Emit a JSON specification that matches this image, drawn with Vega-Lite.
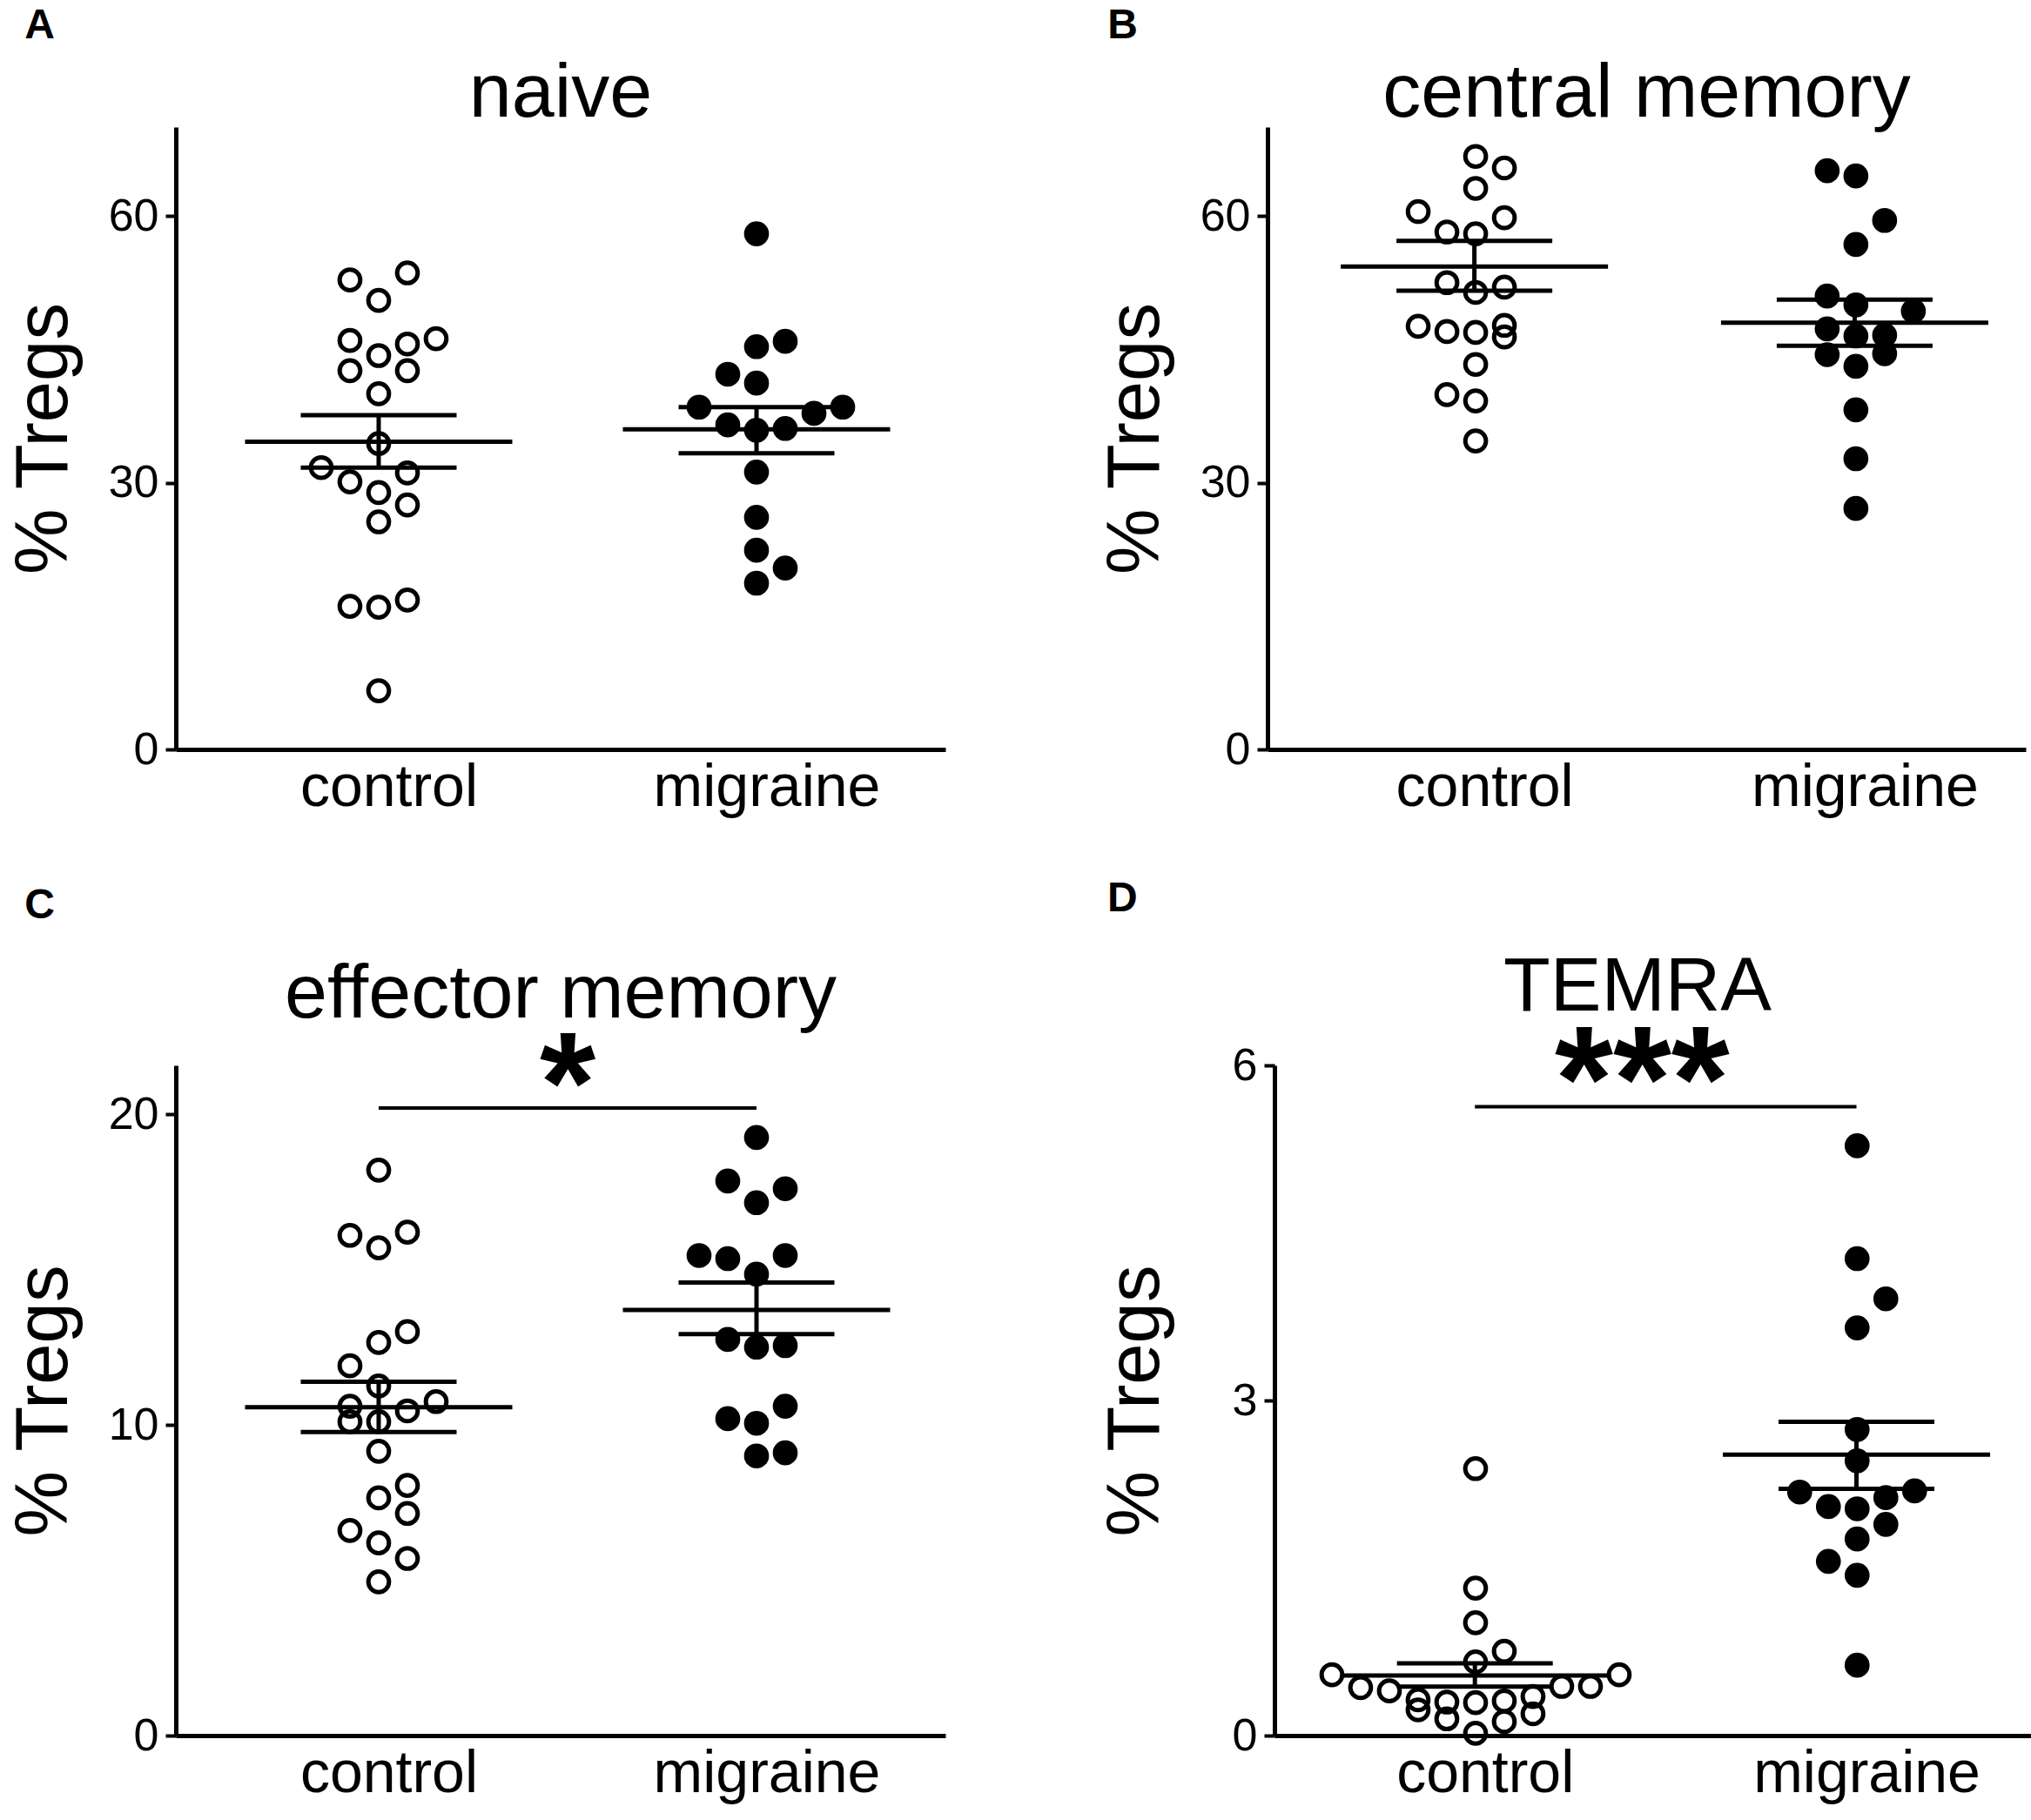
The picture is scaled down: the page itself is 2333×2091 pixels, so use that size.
{
 "$schema": "https://vega.github.io/schema/vega-lite/v6.json",
 "padding": {"left": 8, "top": 6, "right": 0, "bottom": 10},
 "config": {
   "font": "Liberation Sans",
   "view": {"stroke": null},
   "axis": {"grid": false, "domainColor": "black", "domainWidth": 5, "tickColor": "black", "tickWidth": 4, "tickSize": 12, "labelColor": "black", "titleColor": "black", "labelFont": "Liberation Sans", "titleFont": "Liberation Sans"},
   "axisX": {"ticks": false, "labelFontSize": 68, "labelPadding": 10, "labelAngle": 0, "labelLimit": 600, "labelOffset": 12},
   "axisY": {"labelFontSize": 52, "labelPadding": 8, "titleFontSize": 85, "titleFontWeight": "normal", "titlePadding": 30, "format": "d"},
   "title": {"color": "black", "font": "Liberation Sans"}
 },
 "datasets": {
  "pts": [
   {"panel":"naive","group":"control","slot":-1,"value":52.8},
   {"panel":"naive","group":"control","slot":1,"value":53.6},
   {"panel":"naive","group":"control","slot":0,"value":50.5},
   {"panel":"naive","group":"control","slot":-1,"value":46.0},
   {"panel":"naive","group":"control","slot":1,"value":45.6},
   {"panel":"naive","group":"control","slot":2,"value":46.2},
   {"panel":"naive","group":"control","slot":0,"value":44.3},
   {"panel":"naive","group":"control","slot":-1,"value":42.6},
   {"panel":"naive","group":"control","slot":1,"value":42.6},
   {"panel":"naive","group":"control","slot":0,"value":40.0},
   {"panel":"naive","group":"control","slot":0,"value":34.4},
   {"panel":"naive","group":"control","slot":-2,"value":31.7},
   {"panel":"naive","group":"control","slot":-1,"value":30.1},
   {"panel":"naive","group":"control","slot":1,"value":31.1},
   {"panel":"naive","group":"control","slot":0,"value":28.9},
   {"panel":"naive","group":"control","slot":1,"value":27.5},
   {"panel":"naive","group":"control","slot":0,"value":25.6},
   {"panel":"naive","group":"control","slot":-1,"value":16.1},
   {"panel":"naive","group":"control","slot":0,"value":16.0},
   {"panel":"naive","group":"control","slot":1,"value":16.8},
   {"panel":"naive","group":"control","slot":0,"value":6.6},
   {"panel":"naive","group":"migraine","slot":0,"value":58.0},
   {"panel":"naive","group":"migraine","slot":0,"value":45.3},
   {"panel":"naive","group":"migraine","slot":1,"value":45.9},
   {"panel":"naive","group":"migraine","slot":-1,"value":42.2},
   {"panel":"naive","group":"migraine","slot":0,"value":41.2},
   {"panel":"naive","group":"migraine","slot":-2,"value":38.5},
   {"panel":"naive","group":"migraine","slot":2,"value":37.8},
   {"panel":"naive","group":"migraine","slot":3,"value":38.5},
   {"panel":"naive","group":"migraine","slot":-1,"value":36.5},
   {"panel":"naive","group":"migraine","slot":0,"value":35.9},
   {"panel":"naive","group":"migraine","slot":1,"value":36.1},
   {"panel":"naive","group":"migraine","slot":0,"value":31.2},
   {"panel":"naive","group":"migraine","slot":0,"value":26.1},
   {"panel":"naive","group":"migraine","slot":0,"value":22.4},
   {"panel":"naive","group":"migraine","slot":1,"value":20.4},
   {"panel":"naive","group":"migraine","slot":0,"value":18.7},
   {"panel":"central memory","group":"control","slot":0,"value":66.7},
   {"panel":"central memory","group":"control","slot":1,"value":65.4},
   {"panel":"central memory","group":"control","slot":0,"value":63.1},
   {"panel":"central memory","group":"control","slot":-2,"value":60.5},
   {"panel":"central memory","group":"control","slot":1,"value":59.8},
   {"panel":"central memory","group":"control","slot":-1,"value":58.2},
   {"panel":"central memory","group":"control","slot":0,"value":58.0},
   {"panel":"central memory","group":"control","slot":-1,"value":52.5},
   {"panel":"central memory","group":"control","slot":0,"value":51.4},
   {"panel":"central memory","group":"control","slot":1,"value":52.0},
   {"panel":"central memory","group":"control","slot":-2,"value":47.6},
   {"panel":"central memory","group":"control","slot":-1,"value":47.0},
   {"panel":"central memory","group":"control","slot":0,"value":46.9},
   {"panel":"central memory","group":"control","slot":1,"value":47.7},
   {"panel":"central memory","group":"control","slot":1,"value":46.4},
   {"panel":"central memory","group":"control","slot":0,"value":43.3},
   {"panel":"central memory","group":"control","slot":-1,"value":39.9},
   {"panel":"central memory","group":"control","slot":0,"value":39.2},
   {"panel":"central memory","group":"control","slot":0,"value":34.7},
   {"panel":"central memory","group":"migraine","slot":-1,"value":65.1},
   {"panel":"central memory","group":"migraine","slot":0,"value":64.5},
   {"panel":"central memory","group":"migraine","slot":1,"value":59.5},
   {"panel":"central memory","group":"migraine","slot":0,"value":56.8},
   {"panel":"central memory","group":"migraine","slot":-1,"value":51.0},
   {"panel":"central memory","group":"migraine","slot":0,"value":50.0},
   {"panel":"central memory","group":"migraine","slot":2,"value":49.3},
   {"panel":"central memory","group":"migraine","slot":-1,"value":47.3},
   {"panel":"central memory","group":"migraine","slot":0,"value":46.5},
   {"panel":"central memory","group":"migraine","slot":1,"value":46.6},
   {"panel":"central memory","group":"migraine","slot":-1,"value":44.4},
   {"panel":"central memory","group":"migraine","slot":1,"value":44.5},
   {"panel":"central memory","group":"migraine","slot":0,"value":43.1},
   {"panel":"central memory","group":"migraine","slot":0,"value":38.2},
   {"panel":"central memory","group":"migraine","slot":0,"value":32.7},
   {"panel":"central memory","group":"migraine","slot":0,"value":27.1},
   {"panel":"effector memory","group":"control","slot":0,"value":18.2},
   {"panel":"effector memory","group":"control","slot":-1,"value":16.1},
   {"panel":"effector memory","group":"control","slot":1,"value":16.2},
   {"panel":"effector memory","group":"control","slot":0,"value":15.7},
   {"panel":"effector memory","group":"control","slot":1,"value":13.0},
   {"panel":"effector memory","group":"control","slot":0,"value":12.65},
   {"panel":"effector memory","group":"control","slot":-1,"value":11.9},
   {"panel":"effector memory","group":"control","slot":0,"value":11.25},
   {"panel":"effector memory","group":"control","slot":-1,"value":10.6},
   {"panel":"effector memory","group":"control","slot":-1,"value":10.1},
   {"panel":"effector memory","group":"control","slot":0,"value":10.1},
   {"panel":"effector memory","group":"control","slot":1,"value":10.45},
   {"panel":"effector memory","group":"control","slot":2,"value":10.75},
   {"panel":"effector memory","group":"control","slot":0,"value":9.15},
   {"panel":"effector memory","group":"control","slot":1,"value":8.05},
   {"panel":"effector memory","group":"control","slot":0,"value":7.65},
   {"panel":"effector memory","group":"control","slot":1,"value":7.15},
   {"panel":"effector memory","group":"control","slot":-1,"value":6.6},
   {"panel":"effector memory","group":"control","slot":0,"value":6.2},
   {"panel":"effector memory","group":"control","slot":1,"value":5.7},
   {"panel":"effector memory","group":"control","slot":0,"value":4.95},
   {"panel":"effector memory","group":"migraine","slot":0,"value":19.25},
   {"panel":"effector memory","group":"migraine","slot":-1,"value":17.85},
   {"panel":"effector memory","group":"migraine","slot":1,"value":17.6},
   {"panel":"effector memory","group":"migraine","slot":0,"value":17.15},
   {"panel":"effector memory","group":"migraine","slot":-2,"value":15.45},
   {"panel":"effector memory","group":"migraine","slot":-1,"value":15.35},
   {"panel":"effector memory","group":"migraine","slot":1,"value":15.45},
   {"panel":"effector memory","group":"migraine","slot":0,"value":14.85},
   {"panel":"effector memory","group":"migraine","slot":-1,"value":12.75},
   {"panel":"effector memory","group":"migraine","slot":0,"value":12.5},
   {"panel":"effector memory","group":"migraine","slot":1,"value":12.55},
   {"panel":"effector memory","group":"migraine","slot":1,"value":10.6},
   {"panel":"effector memory","group":"migraine","slot":-1,"value":10.2},
   {"panel":"effector memory","group":"migraine","slot":0,"value":10.05},
   {"panel":"effector memory","group":"migraine","slot":0,"value":9.0},
   {"panel":"effector memory","group":"migraine","slot":1,"value":9.1},
   {"panel":"TEMRA","group":"control","slot":0,"value":2.39},
   {"panel":"TEMRA","group":"control","slot":0,"value":1.32},
   {"panel":"TEMRA","group":"control","slot":0,"value":1.01},
   {"panel":"TEMRA","group":"control","slot":1,"value":0.755},
   {"panel":"TEMRA","group":"control","slot":0,"value":0.66},
   {"panel":"TEMRA","group":"control","slot":-5,"value":0.545},
   {"panel":"TEMRA","group":"control","slot":5,"value":0.545},
   {"panel":"TEMRA","group":"control","slot":-4,"value":0.43},
   {"panel":"TEMRA","group":"control","slot":4,"value":0.44},
   {"panel":"TEMRA","group":"control","slot":-3,"value":0.4},
   {"panel":"TEMRA","group":"control","slot":3,"value":0.44},
   {"panel":"TEMRA","group":"control","slot":-2,"value":0.32},
   {"panel":"TEMRA","group":"control","slot":-2,"value":0.23},
   {"panel":"TEMRA","group":"control","slot":-1,"value":0.3},
   {"panel":"TEMRA","group":"control","slot":0,"value":0.295},
   {"panel":"TEMRA","group":"control","slot":1,"value":0.31},
   {"panel":"TEMRA","group":"control","slot":2,"value":0.35},
   {"panel":"TEMRA","group":"control","slot":2,"value":0.195},
   {"panel":"TEMRA","group":"control","slot":-1,"value":0.15},
   {"panel":"TEMRA","group":"control","slot":1,"value":0.125},
   {"panel":"TEMRA","group":"control","slot":0,"value":0.02},
   {"panel":"TEMRA","group":"migraine","slot":0,"value":5.28},
   {"panel":"TEMRA","group":"migraine","slot":0,"value":4.27},
   {"panel":"TEMRA","group":"migraine","slot":1,"value":3.91},
   {"panel":"TEMRA","group":"migraine","slot":0,"value":3.65},
   {"panel":"TEMRA","group":"migraine","slot":0,"value":2.74},
   {"panel":"TEMRA","group":"migraine","slot":0,"value":2.46},
   {"panel":"TEMRA","group":"migraine","slot":-2,"value":2.18},
   {"panel":"TEMRA","group":"migraine","slot":2,"value":2.19},
   {"panel":"TEMRA","group":"migraine","slot":-1,"value":2.05},
   {"panel":"TEMRA","group":"migraine","slot":0,"value":2.03},
   {"panel":"TEMRA","group":"migraine","slot":1,"value":2.13},
   {"panel":"TEMRA","group":"migraine","slot":1,"value":1.89},
   {"panel":"TEMRA","group":"migraine","slot":0,"value":1.76},
   {"panel":"TEMRA","group":"migraine","slot":-1,"value":1.56},
   {"panel":"TEMRA","group":"migraine","slot":0,"value":1.435},
   {"panel":"TEMRA","group":"migraine","slot":0,"value":0.63}
  ],
  "summ": [
   {"panel":"naive","group":"control","mean":34.6,"lo":31.7,"hi":37.6},
   {"panel":"naive","group":"migraine","mean":36.0,"lo":33.3,"hi":38.5},
   {"panel":"central memory","group":"control","mean":54.3,"lo":51.6,"hi":57.2},
   {"panel":"central memory","group":"migraine","mean":48.0,"lo":45.4,"hi":50.6},
   {"panel":"effector memory","group":"control","mean":10.57,"lo":9.77,"hi":11.39},
   {"panel":"effector memory","group":"migraine","mean":13.7,"lo":12.92,"hi":14.58},
   {"panel":"TEMRA","group":"control","mean":0.537,"lo":0.439,"hi":0.647},
   {"panel":"TEMRA","group":"migraine","mean":2.515,"lo":2.21,"hi":2.81}
  ],
  "sig": [
   {"panel":"effector memory","label":"*","level":20.2},
   {"panel":"TEMRA","label":"***","level":5.63}
  ]
 },
 "spacing": 70,
 "vconcat": [
  {"spacing": 176, "hconcat": [
   {"title": {"text": "A", "anchor": "start", "fontSize": 48, "fontWeight": "bold", "dx": 20, "offset": 10},
    "vconcat": [{
     "width": 884, "height": 715,
     "title": {"text": "naive", "fontSize": 88, "fontWeight": "normal", "anchor": "middle", "frame": "group", "offset": -6},
     "layer": [
      {"data": {"name": "pts"}, "transform": [{"filter": "datum.panel === 'naive'"}],
       "mark": {"type": "circle", "size": 560, "stroke": "black", "strokeWidth": 5, "fill": "black", "opacity": 1},
       "encoding": {
        "x": {"field": "group", "type": "nominal", "scale": {"domain": ["control", "migraine"], "paddingInner": 0.0876, "paddingOuter": 0.0622, "align": 0.648}, "axis": {"title": null}},
        "xOffset": {"field": "slot", "type": "quantitative", "scale": {"domain": [-6, 6]}},
        "y": {"field": "value", "type": "quantitative", "title": "% Tregs", "scale": {"domain": [0, 70], "nice": false}, "axis": {"values": [0, 30, 60]}},
        "fillOpacity": {"condition": {"test": "datum.group === 'migraine'", "value": 1}, "value": 0}
       }},
      {"data": {"name": "summ"}, "transform": [{"filter": "datum.panel === 'naive'"}],
       "mark": {"type": "tick", "orient": "horizontal", "size": 307, "thickness": 5, "color": "black", "opacity": 1},
       "encoding": {"x": {"field": "group", "type": "nominal"}, "y": {"field": "mean", "type": "quantitative", "title": "% Tregs"}}},
      {"data": {"name": "summ"}, "transform": [{"filter": "datum.panel === 'naive'"}],
       "mark": {"type": "tick", "orient": "horizontal", "size": 179, "thickness": 5, "color": "black", "opacity": 1},
       "encoding": {"x": {"field": "group", "type": "nominal"}, "y": {"field": "lo", "type": "quantitative", "title": "% Tregs"}}},
      {"data": {"name": "summ"}, "transform": [{"filter": "datum.panel === 'naive'"}],
       "mark": {"type": "tick", "orient": "horizontal", "size": 179, "thickness": 5, "color": "black", "opacity": 1},
       "encoding": {"x": {"field": "group", "type": "nominal"}, "y": {"field": "hi", "type": "quantitative", "title": "% Tregs"}}},
      {"data": {"name": "summ"}, "transform": [{"filter": "datum.panel === 'naive'"}],
       "mark": {"type": "rule", "strokeWidth": 5, "color": "black"},
       "encoding": {"x": {"field": "group", "type": "nominal"}, "y": {"field": "lo", "type": "quantitative", "title": "% Tregs"}, "y2": {"field": "hi"}}}
     ]
    }]
   },
   {"title": {"text": "B", "anchor": "start", "fontSize": 48, "fontWeight": "bold", "dx": 10, "offset": 10},
    "vconcat": [{
     "width": 871, "height": 715,
     "title": {"text": "central memory", "fontSize": 88, "fontWeight": "normal", "anchor": "middle", "frame": "group", "offset": -6},
     "layer": [
      {"data": {"name": "pts"}, "transform": [{"filter": "datum.panel === 'central memory'"}],
       "mark": {"type": "circle", "size": 560, "stroke": "black", "strokeWidth": 5, "fill": "black", "opacity": 1},
       "encoding": {
        "x": {"field": "group", "type": "nominal", "scale": {"domain": ["control", "migraine"], "paddingInner": 0.1, "paddingOuter": 0.047, "align": 1}, "axis": {"title": null}},
        "xOffset": {"field": "slot", "type": "quantitative", "scale": {"domain": [-6, 6]}},
        "y": {"field": "value", "type": "quantitative", "title": "% Tregs", "scale": {"domain": [0, 70], "nice": false}, "axis": {"values": [0, 30, 60]}},
        "fillOpacity": {"condition": {"test": "datum.group === 'migraine'", "value": 1}, "value": 0}
       }},
      {"data": {"name": "summ"}, "transform": [{"filter": "datum.panel === 'central memory'"}],
       "mark": {"type": "tick", "orient": "horizontal", "size": 307, "thickness": 5, "color": "black", "opacity": 1},
       "encoding": {"x": {"field": "group", "type": "nominal"}, "y": {"field": "mean", "type": "quantitative", "title": "% Tregs"}}},
      {"data": {"name": "summ"}, "transform": [{"filter": "datum.panel === 'central memory'"}],
       "mark": {"type": "tick", "orient": "horizontal", "size": 179, "thickness": 5, "color": "black", "opacity": 1},
       "encoding": {"x": {"field": "group", "type": "nominal"}, "y": {"field": "lo", "type": "quantitative", "title": "% Tregs"}}},
      {"data": {"name": "summ"}, "transform": [{"filter": "datum.panel === 'central memory'"}],
       "mark": {"type": "tick", "orient": "horizontal", "size": 179, "thickness": 5, "color": "black", "opacity": 1},
       "encoding": {"x": {"field": "group", "type": "nominal"}, "y": {"field": "hi", "type": "quantitative", "title": "% Tregs"}}},
      {"data": {"name": "summ"}, "transform": [{"filter": "datum.panel === 'central memory'"}],
       "mark": {"type": "rule", "strokeWidth": 5, "color": "black"},
       "encoding": {"x": {"field": "group", "type": "nominal"}, "y": {"field": "lo", "type": "quantitative", "title": "% Tregs"}, "y2": {"field": "hi"}}}
     ]
    }]
   }
  ]},
  {"spacing": 176, "hconcat": [
   {"title": {"text": "C", "anchor": "start", "fontSize": 48, "fontWeight": "bold", "dx": 20, "offset": 34},
    "vconcat": [{
     "width": 884, "height": 770,
     "title": {"text": "effector memory", "fontSize": 88, "fontWeight": "normal", "anchor": "middle", "frame": "group", "offset": -18},
     "layer": [
      {"data": {"name": "pts"}, "transform": [{"filter": "datum.panel === 'effector memory'"}],
       "mark": {"type": "circle", "size": 560, "stroke": "black", "strokeWidth": 5, "fill": "black", "opacity": 1},
       "encoding": {
        "x": {"field": "group", "type": "nominal", "scale": {"domain": ["control", "migraine"], "paddingInner": 0.0876, "paddingOuter": 0.0622, "align": 0.648}, "axis": {"title": null}},
        "xOffset": {"field": "slot", "type": "quantitative", "scale": {"domain": [-6, 6]}},
        "y": {"field": "value", "type": "quantitative", "title": "% Tregs", "scale": {"domain": [0, 21.57], "nice": false}, "axis": {"values": [0, 10, 20]}},
        "fillOpacity": {"condition": {"test": "datum.group === 'migraine'", "value": 1}, "value": 0}
       }},
      {"data": {"name": "summ"}, "transform": [{"filter": "datum.panel === 'effector memory'"}],
       "mark": {"type": "tick", "orient": "horizontal", "size": 307, "thickness": 5, "color": "black", "opacity": 1},
       "encoding": {"x": {"field": "group", "type": "nominal"}, "y": {"field": "mean", "type": "quantitative", "title": "% Tregs"}}},
      {"data": {"name": "summ"}, "transform": [{"filter": "datum.panel === 'effector memory'"}],
       "mark": {"type": "tick", "orient": "horizontal", "size": 179, "thickness": 5, "color": "black", "opacity": 1},
       "encoding": {"x": {"field": "group", "type": "nominal"}, "y": {"field": "lo", "type": "quantitative", "title": "% Tregs"}}},
      {"data": {"name": "summ"}, "transform": [{"filter": "datum.panel === 'effector memory'"}],
       "mark": {"type": "tick", "orient": "horizontal", "size": 179, "thickness": 5, "color": "black", "opacity": 1},
       "encoding": {"x": {"field": "group", "type": "nominal"}, "y": {"field": "hi", "type": "quantitative", "title": "% Tregs"}}},
      {"data": {"name": "summ"}, "transform": [{"filter": "datum.panel === 'effector memory'"}],
       "mark": {"type": "rule", "strokeWidth": 5, "color": "black"},
       "encoding": {"x": {"field": "group", "type": "nominal"}, "y": {"field": "lo", "type": "quantitative", "title": "% Tregs"}, "y2": {"field": "hi"}}},
      {"data": {"name": "sig"}, "transform": [{"filter": "datum.panel === 'effector memory'"}],
       "mark": {"type": "rule", "strokeWidth": 4, "color": "black"},
       "encoding": {"x": {"datum": "control", "type": "nominal"}, "x2": {"datum": "migraine"}, "y": {"field": "level", "type": "quantitative", "title": "% Tregs"}}},
      {"data": {"name": "sig"}, "transform": [{"filter": "datum.panel === 'effector memory'"}],
       "mark": {"type": "text", "fontSize": 165, "fontWeight": "bold", "align": "center", "baseline": "alphabetic", "color": "black"},
       "encoding": {"x": {"datum": "control", "type": "nominal"}, "xOffset": {"datum": 6.58, "type": "quantitative"}, "y": {"datum": 19.42, "type": "quantitative"}, "text": {"field": "label"}}}
     ]
    }]
   },
   {"title": {"text": "D", "anchor": "start", "fontSize": 48, "fontWeight": "bold", "dx": 10, "offset": 34},
    "vconcat": [{
     "width": 874, "height": 770,
     "title": {"text": "TEMRA", "fontSize": 88, "fontWeight": "normal", "anchor": "middle", "frame": "group", "offset": -18, "dx": -20},
     "layer": [
      {"data": {"name": "pts"}, "transform": [{"filter": "datum.panel === 'TEMRA'"}],
       "mark": {"type": "circle", "size": 560, "stroke": "black", "strokeWidth": 5, "fill": "black", "opacity": 1},
       "encoding": {
        "x": {"field": "group", "type": "nominal", "scale": {"domain": ["control", "migraine"], "paddingInner": 0.1, "paddingOuter": 0.047, "align": 0.8}, "axis": {"title": null}},
        "xOffset": {"field": "slot", "type": "quantitative", "scale": {"domain": [-6, 6]}},
        "y": {"field": "value", "type": "quantitative", "title": "% Tregs", "scale": {"domain": [0, 6], "nice": false}, "axis": {"values": [0, 3, 6], "titlePadding": 67}},
        "fillOpacity": {"condition": {"test": "datum.group === 'migraine'", "value": 1}, "value": 0}
       }},
      {"data": {"name": "summ"}, "transform": [{"filter": "datum.panel === 'TEMRA'"}],
       "mark": {"type": "tick", "orient": "horizontal", "size": 307, "thickness": 5, "color": "black", "opacity": 1},
       "encoding": {"x": {"field": "group", "type": "nominal"}, "y": {"field": "mean", "type": "quantitative", "title": "% Tregs"}}},
      {"data": {"name": "summ"}, "transform": [{"filter": "datum.panel === 'TEMRA'"}],
       "mark": {"type": "tick", "orient": "horizontal", "size": 179, "thickness": 5, "color": "black", "opacity": 1},
       "encoding": {"x": {"field": "group", "type": "nominal"}, "y": {"field": "lo", "type": "quantitative", "title": "% Tregs"}}},
      {"data": {"name": "summ"}, "transform": [{"filter": "datum.panel === 'TEMRA'"}],
       "mark": {"type": "tick", "orient": "horizontal", "size": 179, "thickness": 5, "color": "black", "opacity": 1},
       "encoding": {"x": {"field": "group", "type": "nominal"}, "y": {"field": "hi", "type": "quantitative", "title": "% Tregs"}}},
      {"data": {"name": "summ"}, "transform": [{"filter": "datum.panel === 'TEMRA'"}],
       "mark": {"type": "rule", "strokeWidth": 5, "color": "black"},
       "encoding": {"x": {"field": "group", "type": "nominal"}, "y": {"field": "lo", "type": "quantitative", "title": "% Tregs"}, "y2": {"field": "hi"}}},
      {"data": {"name": "sig"}, "transform": [{"filter": "datum.panel === 'TEMRA'"}],
       "mark": {"type": "rule", "strokeWidth": 4, "color": "black"},
       "encoding": {"x": {"datum": "control", "type": "nominal"}, "x2": {"datum": "migraine"}, "y": {"field": "level", "type": "quantitative", "title": "% Tregs"}}},
      {"data": {"name": "sig"}, "transform": [{"filter": "datum.panel === 'TEMRA'"}],
       "mark": {"type": "text", "fontSize": 172, "fontWeight": "bold", "align": "center", "baseline": "alphabetic", "color": "black"},
       "encoding": {"x": {"datum": "control", "type": "nominal"}, "xOffset": {"datum": 5.8, "type": "quantitative"}, "y": {"datum": 5.415, "type": "quantitative"}, "text": {"field": "label"}}}
     ]
    }]
   }
  ]}
 ]
}
